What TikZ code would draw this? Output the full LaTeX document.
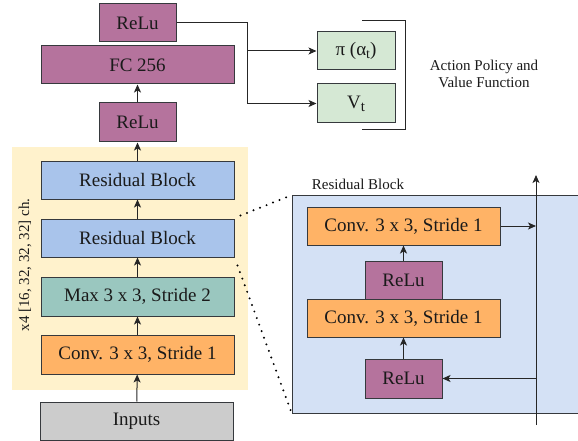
\documentclass[tikz,border=0pt]{standalone}
\usepackage{fontspec}
\setmainfont{Liberation Serif}
\usetikzlibrary{arrows.meta,calc}
\definecolor{cpurple}{HTML}{B5739D}
\definecolor{cgreen}{HTML}{D5E8D4}
\definecolor{cblue}{HTML}{A9C4EB}
\definecolor{cteal}{HTML}{9AC7BF}
\definecolor{corange}{HTML}{FFB366}
\definecolor{cgray}{HTML}{CCCCCC}
\definecolor{cyellow}{HTML}{FFF2CC}
\definecolor{clblue}{HTML}{D4E1F5}
\definecolor{cstroke}{HTML}{36393D}
\definecolor{ctext}{HTML}{1A1A1A}
\tikzset{
  box/.style={draw=cstroke, line width=1pt, inner sep=0pt, text=ctext,
    font=\fontsize{19}{21}\selectfont, minimum height=38pt},
  wide/.style={box, minimum width=193pt},
  narrow/.style={box, minimum width=77pt},
  conn/.style={draw=black!85, line width=1pt, -{Stealth[length=8pt,width=7pt,inset=2pt]}},
  plain/.style={draw=black!85, line width=1pt},
  dots/.style={draw=black, line width=2.2pt, line cap=round, dash pattern=on 0pt off 7pt},
  small/.style={font=\fontsize{15}{17}\selectfont, text=ctext, inner sep=0pt, align=center}
}
\begin{document}
\begin{tikzpicture}[x=1pt,y=-1pt]
\useasboundingbox (0,0) rectangle (578,441);
\clip (0,0) rectangle (578,441);
% backgrounds
\node[fill=cyellow, inner sep=0pt, minimum width=236pt, minimum height=243pt, anchor=north west] (bgy) at (12,147) {};
\node[fill=clblue, draw=cstroke, line width=1pt, inner sep=0pt, minimum width=300pt, minimum height=218pt, anchor=north west] (bgb) at (292,195) {};
% main column
\node[narrow, fill=cpurple] (relu1) at (137.5,23) {ReLu};
\node[wide, fill=cpurple] (fc) at (137.5,65) {FC 256};
\node[narrow, fill=cpurple, minimum height=39pt] (relu2) at (137.5,122.5) {ReLu};
\node[wide, fill=cblue] (rb1) at (137.5,180) {Residual Block};
\node[wide, fill=cblue] (rb2) at (137.5,238) {Residual Block};
\node[wide, fill=cteal, minimum height=39pt] (mx) at (137.5,296.5) {Max 3 x 3, Stride 2};
\node[wide, fill=corange, minimum height=39pt] (cv) at (137.5,354.5) {Conv. 3 x 3, Stride 1};
\node[wide, fill=cgray] (inp) at (136.5,421) {Inputs};
\node[small, rotate=90] (lbl) at (25,265) {x4 [16, 32, 32, 32] ch.};
\draw[conn] (inp) -- (cv);
\draw[conn] (cv) -- (mx);
\draw[conn] (mx) -- (rb2);
\draw[conn] (rb2) -- (rb1);
\draw[conn] (rb1) -- (relu2);
\draw[conn] (relu2) -- (fc);
% outputs
\node[box, fill=cgreen, minimum width=78pt] (pi) at (356,51) {π (α\raisebox{-0.3ex}{\fontsize{14}{14}\selectfont t})};
\node[box, fill=cgreen, minimum width=78pt, minimum height=39pt] (vt) at (356,103.5) {V\raisebox{-0.35ex}{\fontsize{15}{15}\selectfont t}};
\coordinate (j) at (247,23);
\draw[plain] (relu1.east) -- (j) -- (j |- vt.west);
\draw[conn] (j |- vt.west) -- (vt.west);
\draw[conn] (j |- pi.west) -- (pi.west);
\coordinate (bt) at (362,21);
\coordinate (bb) at (362,130);
\draw[plain] (bt) -- (405,21) -- (405,130) -- (bb);
\node[small] (apv) at (484,73.5) {Action Policy and\\Value Function};
% residual block detail
\node[small] (rbl) at (358,184) {Residual Block};
\node[wide, fill=corange] (rc1) at (403.5,226) {Conv. 3 x 3, Stride 1};
\node[narrow, fill=cpurple] (rr1) at (403.5,280) {ReLu};
\node[wide, fill=corange] (rc2) at (403.5,318) {Conv. 3 x 3, Stride 1};
\node[narrow, fill=cpurple, minimum height=39pt] (rr2) at (403.5,378.5) {ReLu};
\draw[conn] (rr1) -- (rc1);
\draw[conn] (rr2) -- (rc2);
\coordinate (vb) at (536,425);
\coordinate (vtop) at (536,175);
\draw[conn] (vb) -- (vtop);
\draw[conn] (rc1.east) -- (vtop |- rc1.east);
\draw[conn] (vb |- rr2.east) -- (rr2.east);
% zoom dots
\draw[dots] ($(rb2.north east)+(6,-3)$) -- (bgb.north west);
\draw[dots] ($(rb2.south east)+(3,8)$) -- (bgb.south west);
\end{tikzpicture}
\end{document}
